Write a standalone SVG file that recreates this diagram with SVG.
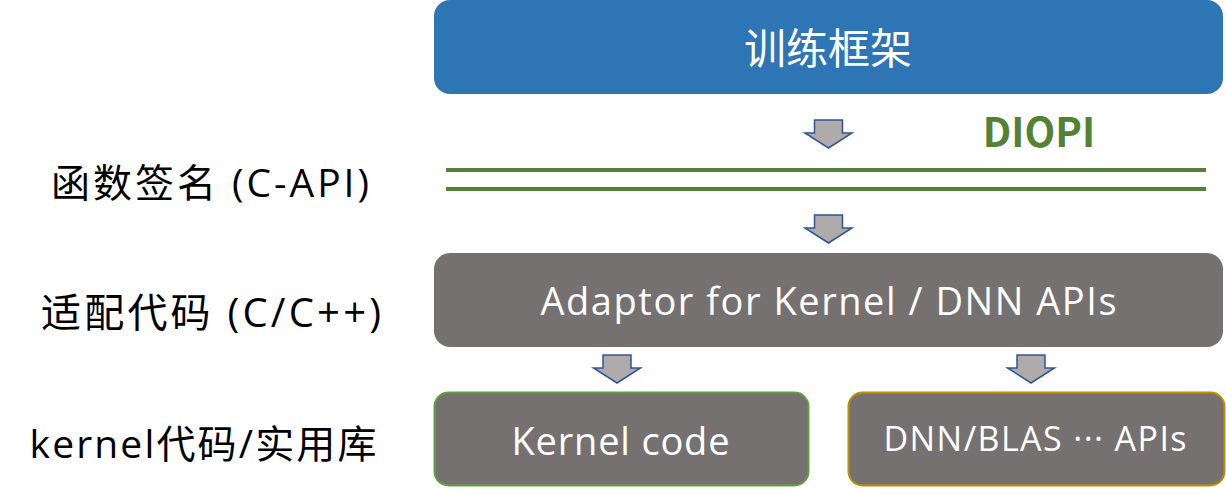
<svg xmlns="http://www.w3.org/2000/svg" width="1226" height="494" viewBox="0 0 1226 494">
<style>
.lbl{font-family:"Open Sans","Noto Sans CJK SC",sans-serif;fill:#000;text-anchor:middle;dominant-baseline:central}
.wt{font-family:"Open Sans","Noto Sans CJK SC",sans-serif;fill:#fff;text-anchor:middle;dominant-baseline:central}
.arr{fill:#AFABAB;stroke:#2F5597;stroke-width:1.5;stroke-linejoin:miter}
</style>
<defs>
<path id="dn" d="M-14,0 H14 V13 H23.5 L0,28 L-23.5,13 H-14 Z"/>
</defs>
<rect width="1226" height="494" fill="#fff"/>
<g id="labels">
<text class="lbl" x="210" y="181" font-size="39" textLength="318" lengthAdjust="spacing">函数签名 (C-API)</text>
<text class="lbl" x="211" y="311" font-size="40" textLength="340" lengthAdjust="spacing">适配代码 (C/C++)</text>
<text class="lbl" x="203" y="442" font-size="39" textLength="347" lengthAdjust="spacing">kernel代码/实用库</text>
</g>
<g id="framework">
<rect x="434" y="0" width="789" height="94" rx="16" fill="#2E75B6"/>
<text class="wt" x="828" y="47" font-size="42" font-family="Noto Sans CJK SC,sans-serif">训练框架</text>
</g>
<g id="diopi">
<text x="1039" y="147" font-family="Noto Sans CJK SC,Liberation Sans,sans-serif" font-weight="bold" font-size="40" fill="#548235" text-anchor="middle">DIOPI</text>
<line x1="446" y1="170" x2="1206" y2="170" stroke="#548235" stroke-width="4"/>
<line x1="446" y1="189" x2="1206" y2="189" stroke="#548235" stroke-width="4"/>
</g>
<g id="adaptor">
<rect x="434" y="253" width="789" height="94" rx="16" fill="#767171"/>
<text class="wt" x="828.5" y="300" font-size="38" textLength="576" lengthAdjust="spacing">Adaptor for Kernel / DNN APIs</text>
</g>
<g id="kernel">
<rect x="434.5" y="392.5" width="374" height="93" rx="14" fill="#767171" stroke="#62A03F" stroke-width="2"/>
<text class="wt" x="620.5" y="440" font-size="38" textLength="218" lengthAdjust="spacing">Kernel code</text>
</g>
<g id="dnn">
<rect x="848.5" y="392.5" width="376" height="93" rx="14" fill="#767171" stroke="#BF9000" stroke-width="2"/>
<text class="wt" x="1035" y="438" font-size="34" textLength="303" lengthAdjust="spacing">DNN/BLAS ··· APIs</text>
</g>
<g id="connectors">
<use href="#dn" class="arr" x="828.5" y="120"/>
<use href="#dn" class="arr" x="828.5" y="215"/>
<use href="#dn" class="arr" x="617" y="355"/>
<use href="#dn" class="arr" x="1031" y="355"/>
</g>
</svg>
